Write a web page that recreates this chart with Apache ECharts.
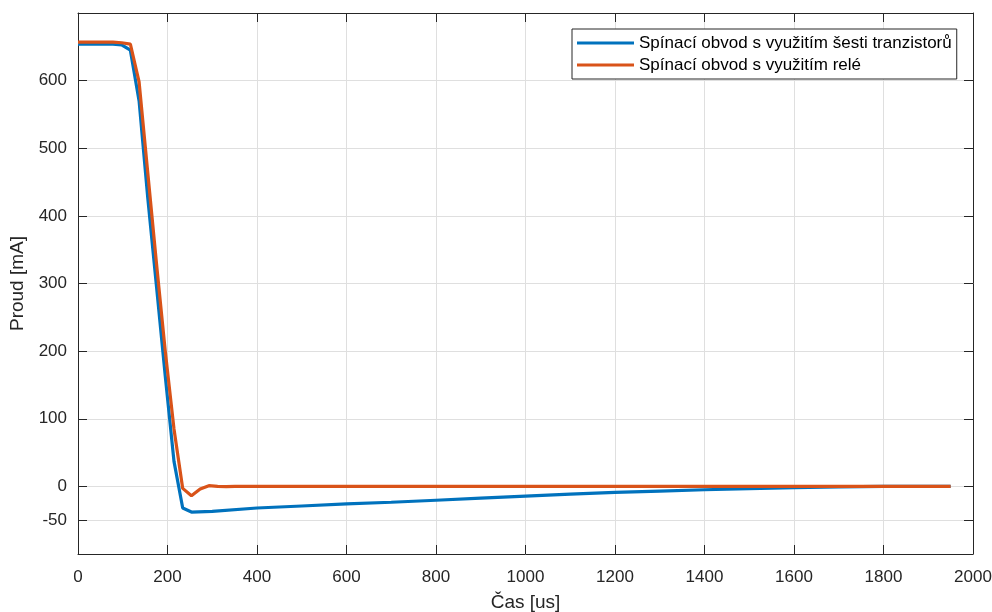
<!DOCTYPE html>
<html>
<head>
<meta charset="utf-8">
<script src="https://cdn.jsdelivr.net/npm/echarts@6/dist/echarts.min.js"></script>
<style>
html,body{margin:0;padding:0;background:#fff;}
#c{width:992px;height:612px;}
</style>
</head>
<body>
<div id="c"></div>
<script>
// ---- data ----
const seriesNames = ['Spínací obvod s využitím šesti tranzistorů', 'Spínací obvod s využitím relé'];
const blueT = [0, 19.5, 39, 58.5, 78, 97.5, 117, 136.5, 156, 175.5, 195, 214.5, 234, 253.5, 300, 400, 500, 600, 700, 800, 900, 1000, 1100, 1200, 1300, 1400, 1500, 1600, 1700, 1800, 1950];
const blueV = [654, 654, 654, 654, 654, 653, 645, 570, 426, 295, 163, 37, -32, -38, -37, -32, -29, -26, -23.5, -20.5, -17.5, -14.5, -11.5, -9, -7, -5, -3.2, -1.8, -0.6, 0, 0];
const orangeT = [0, 19.5, 39, 58.5, 78, 97.5, 117, 136.5, 156, 175.5, 195, 214.5, 234, 253.5, 273, 292.5, 312, 331.5, 351, 400, 600, 800, 1000, 1200, 1400, 1600, 1800, 1950];
const orangeV = [657, 657, 657, 657, 657, 656, 654, 598, 463, 329, 200, 85, -3, -14, -4, 1, 0, -0.5, 0, 0, 0, 0, 0, 0, 0, 0, 0, 0];
const xTicks = [0, 200, 400, 600, 800, 1000, 1200, 1400, 1600, 1800, 2000];
const yTicks = [-50, 0, 100, 200, 300, 400, 500, 600];
const xLabel = 'Čas [us]';
const yLabel = 'Proud [mA]';

const pair = (t, v) => t.map((x, i) => [x, v[i]]);
const axisColor = '#262626';
const gridColor = '#dfdfdf';
const font = 'Liberation Sans, Arial, sans-serif';

const chart = echarts.init(document.getElementById('c'), null, {renderer: 'canvas'});
const baseX = {
  type: 'value', min: 0, max: 2000, interval: 200,
  axisLine: {show: true, onZero: false, lineStyle: {color: axisColor, width: 1}},
  axisTick: {show: true, inside: true, length: 9, lineStyle: {color: axisColor}},
};
const baseY = {
  type: 'value', min: -100, max: 700,
  axisLine: {show: true, onZero: false, lineStyle: {color: axisColor, width: 1}},
  axisTick: {show: true, inside: true, length: 9, customValues: yTicks, lineStyle: {color: axisColor}},
};
chart.setOption({
  animation: false,
  backgroundColor: '#fff',
  grid: {left: 78, top: 13, right: 19, bottom: 58, containLabel: false, outerBoundsMode: 'none'},
  legend: {
    orient: 'vertical', left: 572, top: 29,
    data: seriesNames,
    icon: 'rect', itemWidth: 57, itemHeight: 3, itemGap: 4,
    padding: [5, 5, 5, 5],
    backgroundColor: '#fff', borderColor: axisColor, borderWidth: 1,
    textStyle: {fontFamily: font, fontSize: 17, color: '#000', lineHeight: 18},
    selectedMode: false
  },
  xAxis: [
    Object.assign({}, baseX, {
      position: 'bottom',
      splitLine: {show: true, lineStyle: {color: gridColor, width: 1}},
      axisLabel: {show: true, fontFamily: font, fontSize: 17, color: axisColor, margin: 15,
                  customValues: xTicks, formatter: v => String(v)},
      name: xLabel, nameLocation: 'middle', nameGap: 39,
      nameTextStyle: {fontFamily: font, fontSize: 19, color: axisColor}
    }),
    Object.assign({}, baseX, {
      position: 'top', splitLine: {show: false}, axisLabel: {show: false}
    })
  ],
  yAxis: [
    Object.assign({}, baseY, {
      position: 'left',
      splitLine: {show: true, lineStyle: {color: gridColor, width: 1}},
      axisLabel: {show: true, fontFamily: font, fontSize: 17, color: axisColor, margin: 11,
                  customValues: yTicks, formatter: v => String(v)},
      name: yLabel, nameLocation: 'middle', nameGap: 42, nameRotate: 90,
      nameTextStyle: {fontFamily: font, fontSize: 19, color: axisColor}
    }),
    Object.assign({}, baseY, {
      position: 'right', splitLine: {show: false}, axisLabel: {show: false}
    })
  ],
  series: [
    {name: seriesNames[0], type: 'line', data: pair(blueT, blueV), showSymbol: false, symbol: 'none',
     lineStyle: {color: '#0072BD', width: 3.2}, itemStyle: {color: '#0072BD'}, z: 3},
    {name: seriesNames[1], type: 'line', data: pair(orangeT, orangeV), showSymbol: false, symbol: 'none',
     lineStyle: {color: '#D95319', width: 3.2}, itemStyle: {color: '#D95319'}, z: 4}
  ]
});
</script>
</body>
</html>
